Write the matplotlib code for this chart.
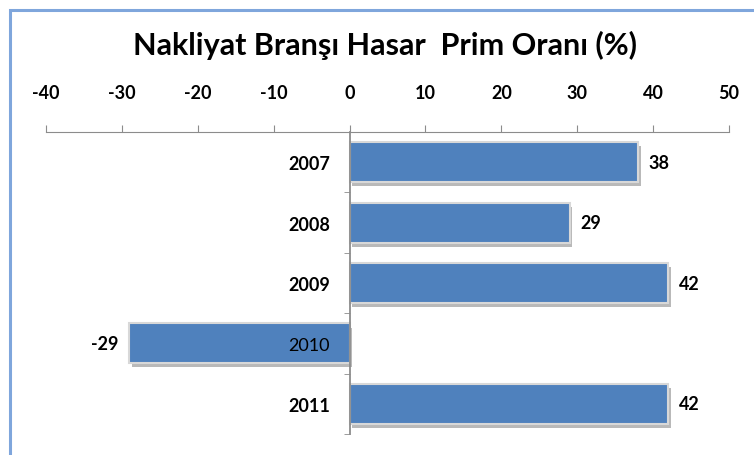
import matplotlib
matplotlib.use("Agg")
import matplotlib.pyplot as plt
import matplotlib.patheffects as pe
from matplotlib.patches import Rectangle
import numpy as np

# veriler
years = ["2007", "2008", "2009", "2010", "2011"]
ratios = [38, 29, 42, -29, 42]
xticks = [-40, -30, -20, -10, 0, 10, 20, 30, 40, 50]

plt.rcParams["font.family"] = ["Lato", "DejaVu Sans"]

fig = plt.figure(figsize=(7.54, 4.56), dpi=100)
# sol ve ust kenarlik (grafik cercevesi)
fig.patches.append(Rectangle((9.5 / 754, -0.1), 1.2, 1.1 - 11 / 456,
                             transform=fig.transFigure, fill=False,
                             edgecolor="#7fa6dc", linewidth=2.2))

ax = fig.add_axes([46 / 754, 21 / 456, 683 / 754, 302 / 456])
ypos = np.arange(len(years))

shadow = [pe.SimplePatchShadow(offset=(2, -3), shadow_rgbFace="#a8a8a8", alpha=0.8), pe.Normal()]
bars = ax.barh(ypos, ratios, height=0.66, color="#4f81bd",
               edgecolor="#d8d8d8", linewidth=1.5, zorder=1)
for b in bars:
    b.set_path_effects(shadow)

for y, v in zip(ypos, ratios):
    if v >= 0:
        ax.text(v + 1.4, y, str(v), va="center", ha="left",
                fontsize=13, fontweight="bold")
    else:
        ax.text(v - 1.4, y, str(v), va="center", ha="right",
                fontsize=13, fontweight="bold")

ax.set_xlim(-40, 50)
ax.set_ylim(len(years) - 0.5, -0.5)
ax.set_xticks(xticks)
ax.set_xticklabels([str(t) for t in xticks], fontsize=13, fontweight="bold")
ax.xaxis.tick_top()
ax.tick_params(axis="x", direction="out", length=5, color="#8c8c8c", pad=17)

for s in ["bottom", "right"]:
    ax.spines[s].set_visible(False)
ax.spines["top"].set_color("#8c8c8c")
ax.spines["left"].set_position(("data", 0))
ax.spines["left"].set_color("#8c8c8c")
ax.spines["left"].set_linewidth(1.3)

ax.set_yticks(ypos)
ax.set_yticklabels(years, fontsize=13, fontweight="bold")
for lbl, yr in zip(ax.get_yticklabels(), years):
    if yr == "2010":
        lbl.set_fontweight("normal")
ax.set_yticks(np.arange(len(years) + 1) - 0.5, minor=True)
ax.tick_params(axis="y", which="major", length=0, pad=14)
ax.tick_params(axis="y", which="minor", length=4, direction="out", color="#8c8c8c")

fig.text(385 / 754, 1 - 45 / 456, "Nakliyat Branşı Hasar  Prim Oranı (%)",
         ha="center", va="center", fontsize=22, fontweight="bold")

fig.savefig("out.png", dpi=100)
